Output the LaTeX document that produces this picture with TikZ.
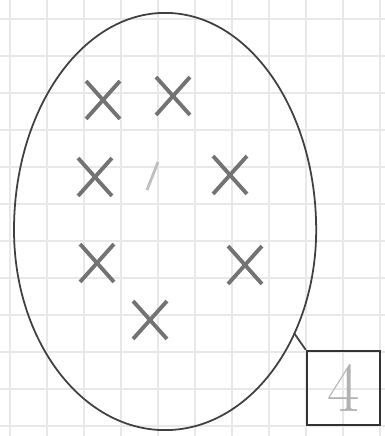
\documentclass[tikz,border=0pt]{standalone}
\usetikzlibrary{shapes.misc}
\begin{document}
\begin{tikzpicture}[x=0.01cm,y=-0.01cm,
  gridline/.style={draw=black!9,line width=0.5pt},
  pencil/.style={draw=black!75,line width=0.5pt},
  xmark/.style={cross out,draw=black!55,line width=1.1pt,minimum width=0.30cm,minimum height=0.34cm,inner sep=0pt},
  faintmark/.style={draw=black!25,line width=0.8pt},
  digitbox/.style={draw=black!80,line width=0.7pt,minimum width=0.73cm,minimum height=0.74cm,inner sep=0pt,
    font=\fontsize{20}{20}\selectfont,text=black!30}]
\useasboundingbox (0,0) rectangle (385,436);
\fill[white] (0,0) rectangle (385,436);
% graph paper
\foreach \gx in {10,47,...,385} \draw[gridline] (\gx,0) -- (\gx,436);
\foreach \gy in {19,56,...,436} \draw[gridline] (0,\gy) -- (385,\gy);
% oval (egg: upper and lower half ellipses)
\draw[pencil] (14,230) arc[start angle=180,end angle=0,x radius=1.51cm,y radius=2.17cm]
  arc[start angle=0,end angle=-180,x radius=1.51cm,y radius=2.00cm] -- cycle;
\coordinate (edge) at (294,333);
% marks
\node[xmark] (m1) at (103,100) {};
\node[xmark] (m2) at (173,96) {};
\node[xmark] (m3) at (95,177) {};
\node[xmark] (m5) at (230,175) {};
\node[xmark] (m6) at (97,263) {};
\node[xmark] (m7) at (245,265) {};
\node[xmark] (m8) at (150,320) {};
\coordinate (s1) at (158,162);
\coordinate (s2) at (147,190);
\draw[faintmark] (s1) -- (s2);
% box with digit
\node[digitbox] (box) at (343.5,388) {4};
\draw[pencil] (edge) -- (box.north west);
\end{tikzpicture}
\end{document}
